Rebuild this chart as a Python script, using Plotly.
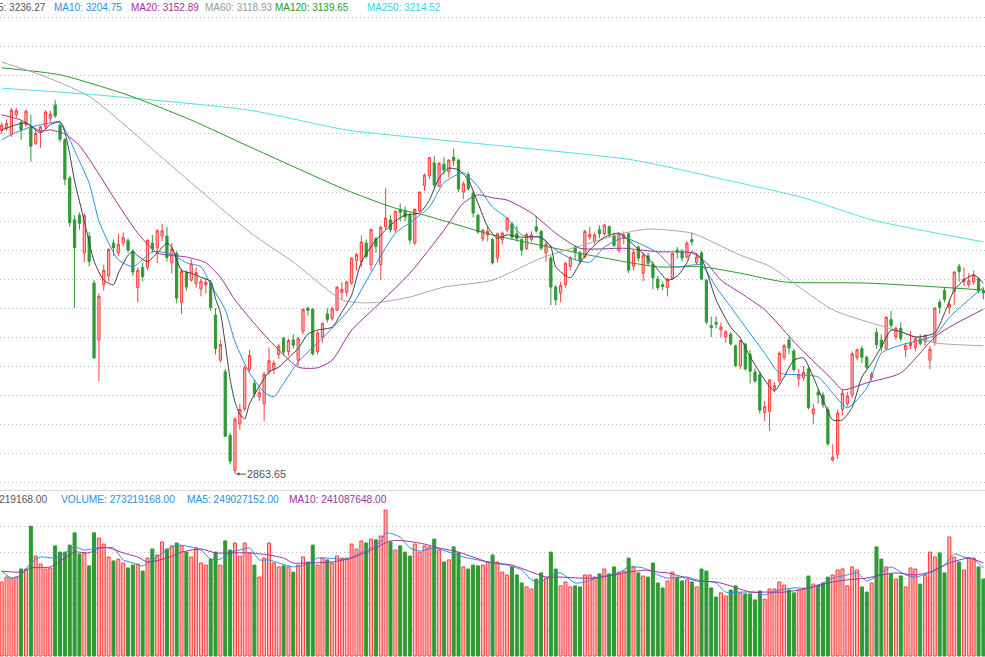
import plotly.graph_objects as go

# ---------------- data (index 0 = first visible trading day) ----------------
open_ = [3456,3460,3449,3483,3470,3466,3462,3434,3455,3462,
 3477,3500,3465,3440,3374,3302,3310,3245,3274,3193,
 3095,3190,3205,3262,3245,3262,3266,3248,3185,3220,
 3220,3262,3254,3274,3274,3228,3244,3160,3211,3198,
 3192,3183,3190,3193,3138,3060,3040,2930,2870,2950,
 2976,3044,3020,2997,2985,3040,3044,3070,3098,3075,
 3095,3060,3110,3150,3148,3075,3100,3140,3132,3146,
 3177,3177,3193,3232,3230,3262,3225,3270,3225,3290,
 3302,3285,3320,3318,3310,3262,3318,3361,3378,3400,
 3360,3398,3385,3410,3405,3350,3380,3348,3310,3270,
 3276,3268,3236,3268,3285,3295,3278,3268,3252,3268,
 3290,3282,3245,3236,3186,3176,3190,3222,3255,3245,
 3238,3272,3265,3285,3278,3290,3275,3250,3270,3278,
 3222,3255,3210,3240,3225,3200,3190,3185,3200,3250,
 3248,3238,3268,3228,3245,3198,3120,3125,3112,3100,
 3105,3085,3050,3088,3070,3040,3035,2970,2972,3010,
 3025,3065,3095,3076,3028,3030,3045,2968,3005,3000,
 2975,2888,2897,2975,2985,3000,3065,3080,3065,3030,
 3108,3095,3080,3130,3100,3115,3078,3085,3082,3098,
 3092,3060,3090,3160,3180,3151,3178,3222,3195,3190,
 3195,3200,3180]
high = [3470,3475,3495,3495,3474,3493,3483,3457,3464,3491,
 3490,3509,3470,3443,3378,3310,3315,3313,3281,3198,
 3175,3225,3253,3268,3278,3280,3270,3251,3220,3228,
 3268,3276,3286,3295,3290,3262,3248,3218,3215,3234,
 3220,3200,3200,3198,3150,3095,3045,2935,2962,2985,
 3051,3078,3026,3011,3040,3082,3060,3088,3100,3097,
 3105,3100,3150,3152,3150,3110,3125,3150,3152,3187,
 3195,3197,3237,3245,3275,3268,3287,3272,3292,3357,
 3310,3318,3330,3325,3315,3322,3350,3382,3410,3412,
 3402,3410,3406,3424.84,3407,3368,3385,3352,3312,3286,
 3290,3270,3280,3282,3307,3298,3292,3270,3280,3282,
 3309,3285,3265,3240,3190,3195,3230,3240,3258,3248,
 3285,3290,3280,3292,3295,3292,3280,3280,3282,3280,
 3250,3258,3245,3245,3230,3205,3196,3202,3245,3255,
 3252,3265,3280,3245,3248,3200,3135,3135,3125,3112,
 3108,3087,3095,3090,3078,3046,3040,2990,3027,3022,
 3075,3088,3100,3080,3045,3050,3048,2985,3010,3005,
 2980,2915,2975,3010,3005,3075,3080,3085,3068,3040,
 3115,3105,3136,3145,3118,3125,3090,3110,3100,3105,
 3105,3085,3151,3165,3185,3165,3213,3226,3220,3210,
 3215,3203,3185]
low = [3450,3455,3445,3478,3440,3462,3402,3431,3426,3458,
 3470,3478,3436,3362,3290,3150,3285,3229,3222,3062,
 3024,3180,3196,3240,3240,3256,3245,3205,3160,3196,
 3215,3245,3228,3265,3230,3210,3158,3140,3180,3195,
 3185,3170,3175,3145,3070,3056,2928,2880,2863.65,2940,
 2972,3040,2996,2990,2955,3035,3036,3062,3068,3068,
 3080,3050,3105,3137,3068,3070,3090,3125,3128,3145,
 3165,3170,3190,3215,3220,3235,3215,3245,3198,3285,
 3280,3280,3300,3300,3260,3258,3315,3352,3372,3358,
 3358,3380,3375,3395,3350,3338,3352,3306,3278,3265,
 3265,3225,3228,3260,3280,3268,3265,3240,3250,3264,
 3280,3250,3230,3155,3155,3160,3185,3215,3232,3225,
 3235,3268,3260,3270,3275,3272,3255,3245,3260,3210,
 3215,3230,3196,3222,3182,3180,3181,3170,3198,3235,
 3230,3235,3258,3225,3198,3122,3100,3115,3100,3090,
 3085,3048,3045,3042,3020,3021,2968,2955,2938,3005,
 3020,3060,3070,3040,3015,3025,2975,2950,2985,2978,
 2912,2885.09,2890,2965,2980,2995,3060,3055,3045,3025,
 3080,3075,3078,3115,3095,3092,3065,3080,3075,3085,
 3085,3045,3085,3140,3160,3140,3155,3195,3188,3185,
 3190,3175,3165]
close = [3465,3468,3491,3490,3457,3489,3429,3451,3462,3488,
 3484,3481,3441,3372,3297,3254,3296,3309,3230,3064,
 3170,3215,3251,3254,3260,3271,3250,3212,3215,3204,
 3267,3252,3283,3283,3237,3252,3167,3213,3186,3226,
 3211,3196,3194,3151,3080,3087,2929,2886,2958,2975,
 3047,3068,3002,3004,3036,3059,3055,3084,3074,3094,
 3086,3097,3147,3146,3071,3107,3123,3130,3149,3186,
 3182,3195,3236,3242,3264,3239,3285,3256,3289,3305,
 3285,3317,3315,3307,3267,3320,3350,3379,3409,3362,
 3399,3388,3405,3404,3355,3364,3356,3314,3281,3284,
 3282,3228,3278,3279,3305,3272,3270,3250,3277,3276,
 3283,3253,3260,3186,3164,3189,3227,3237,3247,3230,
 3282,3277,3276,3278,3293,3278,3258,3278,3276,3215,
 3246,3236,3241,3227,3202,3185,3187,3200,3244,3246,
 3236,3262,3264,3238,3200,3126,3116,3122,3117,3109,
 3088,3051,3094,3045,3041,3024,2974,2980,3026,3016,
 3072,3085,3081,3044,3035,3039,2978,2976,3000,2983,
 2916,2893,2969,3003,2998,3071,3078,3065,3048,3036,
 3087,3083,3134,3120,3115,3097,3085,3089,3097,3089,
 3102,3079,3150,3151,3165,3156,3212,3213,3200,3197,
 3207,3179,3176]
volume = [285,304,300,304,335,335,500,385,354,335,
 339,424,400,400,427,474,393,397,347,474,
 454,431,381,366,373,358,339,350,354,327,
 377,412,389,439,412,424,435,424,400,381,
 416,358,350,373,400,350,443,408,435,385,
 435,397,350,304,377,435,358,343,347,343,
 323,350,381,362,427,350,377,370,358,385,
 377,377,431,412,443,435,450,447,462,562,
 439,408,424,400,385,431,400,424,420,450,
 408,362,370,420,397,343,335,350,347,350,
 362,389,362,323,312,343,312,281,266,258,
 296,320,300,400,335,270,285,266,270,266,
 312,312,304,316,335,316,343,323,327,377,
 343,320,308,304,358,281,262,289,323,304,
 289,293,285,266,335,327,262,227,243,231,
 254,270,243,239,239,216,250,219,258,258,
 285,273,254,243,254,258,308,277,273,281,
 304,312,331,335,270,343,331,266,246,281,
 420,373,343,316,296,308,266,339,335,277,
 312,400,381,397,320,458,381,362,331,377,
 377,343,296]  # millions

# price moving averages (day index, value)
ma5_i = [0,3,5,8,10,12,13,14,15,17,19,21,23,24,26,27,28,30,32,34,35,37,39,41,43,44,45,46,47,48,49,50,51,53,55,57,59,61,63,65,68,70,72,74,77,81,83,86,88,90,92,94,96,98,100,102,104,107,111,113,114,117,119,121,124,127,130,133,135,137,139,141,142,144,145,147,150,152,154,157,159,161,163,165,167,169,171,173,175,177,179,181,183,185,188,192,194,196,198,200,202]
ma5_v = [3457,3466,3469,3452,3466,3471,3453,3415,3369,3300,3231,3198,3190,3210,3241,3247,3240,3230,3245,3262,3255,3215,3210,3203,3196,3166,3142,3088,3027,2988,2967,2959,2985,3015,3040,3048,3064,3080,3105,3112,3117,3143,3172,3229,3267,3300,3310,3314,3336,3374,3391,3388,3371,3331,3290,3270,3276,3272,3272,3255,3221,3202,3228,3250,3272,3279,3259,3236,3216,3198,3205,3228,3247,3235,3215,3164,3117,3098,3066,3026,3007,3031,3060,3064,3031,2991,2957,2957,2979,3031,3055,3083,3112,3109,3100,3107,3141,3181,3198,3207,3193]
ma10_i = [0,3,6,10,12,14,16,18,20,22,24,27,29,31,34,36,38,41,43,46,48,51,54,56,58,61,65,68,72,76,81,84,88,91,95,98,101,104,107,111,114,117,121,124,128,131,135,138,142,144,147,150,152,157,160,164,168,171,174,178,181,185,192,195,202]
ma10_v = [3440,3453,3462,3469,3471,3440,3403,3365,3300,3262,3233,3221,3233,3247,3245,3238,3228,3221,3190,3147,3092,3038,3005,2997,3020,3057,3090,3115,3153,3211,3279,3297,3324,3366,3383,3359,3324,3305,3276,3271,3250,3236,3229,3255,3271,3262,3245,3221,3224,3224,3186,3152,3129,3072,3038,3035,3031,3003,2978,3012,3072,3086,3103,3134,3186]
ma20_i = [0,4,8,10,13,16,20,23,28,32,38,42,45,48,51,55,61,65,68,72,77,84,91,95,98,101,104,109,114,119,128,135,142,145,148,152,157,164,171,173,178,185,192,195,202]
ma20_v = [3483,3474,3455,3457,3450,3430,3381,3341,3279,3245,3238,3228,3203,3164,3133,3095,3048,3047,3060,3112,3152,3210,3284,3331,3345,3340,3336,3314,3279,3253,3253,3247,3245,3228,3198,3176,3147,3083,3026,3009,3021,3038,3100,3117,3148]
ma60_i = [0,8,18,34,51,60,70,74,78,84,91,101,111,121,128,133,142,152,158,171,185,192,202]
ma60_v = [3574,3552,3515,3402,3281,3229,3164,3159,3160,3169,3186,3198,3236,3262,3279,3286,3279,3241,3222,3147,3109,3090,3085]
ma120_i = [0,12,26,39,51,71,81,87,101,121,135,144,152,161,178,193,202]
ma120_v = [3564,3552,3517,3474,3428,3353,3322,3310,3276,3241,3221,3221,3210,3195,3193,3186,3181]
ma250_i = [0,20,51,71,101,130,150,165,179,202]
ma250_v = [3529,3517,3491,3457,3431,3405,3369,3340,3302,3264]

# volume moving averages (day index, millions)
vma5_i = [0,2,4,6,8,11,13,15,17,20,23,25,27,29,31,34,36,39,41,43,45,47,49,51,53,55,57,60,63,65,67,71,74,78,79,82,84,86,89,92,95,98,101,104,107,109,111,113,115,118,120,123,127,129,132,135,137,141,143,147,149,152,155,157,160,163,166,169,171,174,176,178,181,183,186,188,191,194,196,198,200,202]
vma5_v = [327,300,312,358,381,377,397,420,408,416,416,370,358,347,370,408,427,420,408,373,373,400,408,416,370,370,358,343,354,377,377,373,397,439,474,458,416,404,416,400,381,370,358,350,331,293,285,312,320,281,285,304,320,343,339,312,300,304,293,281,246,246,246,235,254,262,262,281,300,312,320,289,320,343,312,304,320,350,393,381,373,339]
vma10_i = [0,4,6,10,13,15,18,20,22,25,28,30,34,37,41,44,48,51,55,58,60,63,68,72,76,80,83,87,90,94,97,100,105,109,112,115,119,122,126,129,133,135,137,141,143,147,150,154,157,161,164,167,171,174,178,181,184,188,191,195,199,202]
vma10_v = [327,323,339,343,377,400,397,416,416,397,381,362,377,400,412,397,397,397,389,377,358,358,362,377,408,443,443,431,416,400,381,362,350,323,304,304,300,300,312,323,331,323,320,300,289,285,270,246,246,246,254,266,285,293,300,312,320,312,323,358,377,358]

# header texts
price_header = [("MA5: 3236.27", "#555555"), ("MA10: 3204.75", "#2b8fdf"),
                ("MA20: 3152.89", "#a0309f"), ("MA60: 3118.93", "#9a9a9a"),
                ("MA120: 3139.65", "#2a982a"), ("MA250: 3214.52", "#38d4dc")]
vol_header = [("VOL: 273219168.00", "#555555"), ("VOLUME: 273219168.00", "#2b8fdf"),
              ("MA5: 249027152.00", "#2b8fdf"), ("MA10: 241087648.00", "#a0309f")]
low_label = "2863.65"

# ---------------- figure ----------------
W, H = 985, 657
N = len(close)
idx = list(range(N))
RED, PINK = "#ff3c3c", "rgba(255,120,120,0.55)"
GREEN = "#2f9a34"
GRID = "#bdbdbd"

fig = go.Figure()
fig.add_trace(go.Candlestick(
    x=idx, open=open_, high=high, low=low, close=close,
    increasing=dict(line=dict(color=RED, width=1), fillcolor=PINK),
    decreasing=dict(line=dict(color=GREEN, width=1), fillcolor=GREEN),
    whiskerwidth=0, xaxis="x", yaxis="y", hoverinfo="skip", showlegend=False))

def add_line(xs, ys, color, xa="x", ya="y", width=1.0):
    fig.add_trace(go.Scatter(x=xs, y=ys, mode="lines", xaxis=xa, yaxis=ya,
                             line=dict(color=color, width=width, shape="spline", smoothing=0.6),
                             hoverinfo="skip", showlegend=False))

add_line(ma250_i, ma250_v, "#4fe0e6")
add_line(ma120_i, ma120_v, "#2a982a")
add_line(ma60_i, ma60_v, "#a8a8a8")
add_line(ma20_i, ma20_v, "#a0309f")
add_line(ma10_i, ma10_v, "#2b8fdf")
add_line(ma5_i, ma5_v, "#404040")

up = [c >= o for o, c in zip(open_, close)]
fig.add_trace(go.Bar(
    x=idx, y=volume, width=0.62, xaxis="x2", yaxis="y2",
    marker=dict(color=[PINK if u else GREEN for u in up],
                line=dict(color=[RED if u else GREEN for u in up], width=1)),
    hoverinfo="skip", showlegend=False))
add_line(vma5_i, vma5_v, "#2b8fdf", "x2", "y2")
add_line(vma10_i, vma10_v, "#a0309f", "x2", "y2")

# pixel helpers for layout only
def py(p):
    return 1 - p / H

xr = [-0.35, 202.33]
price_top, price_bot = 3681.0, 3681.0 - 1.724 * 487
vol_per_px = 3.85
fig.update_layout(
    width=W, height=H, margin=dict(l=0, r=0, t=0, b=0),
    paper_bgcolor="white", plot_bgcolor="white", boxgap=0.35,
    xaxis=dict(domain=[0, 1], range=xr, showgrid=False, showticklabels=False,
               zeroline=False, ticks="", rangeslider=dict(visible=False), anchor="y"),
    yaxis=dict(domain=[py(487), 1], range=[price_bot, price_top],
               tickvals=list(range(2850, 3700, 50)), showticklabels=False, ticks="",
               gridcolor=GRID, griddash="1px,3px", gridwidth=1, zeroline=False, anchor="x"),
    xaxis2=dict(domain=[0, 1], range=xr, showgrid=False, showticklabels=False,
                zeroline=False, ticks="", anchor="y2"),
    yaxis2=dict(domain=[0, py(490)], range=[-1 * vol_per_px, 166 * vol_per_px],
                tickvals=[100, 200, 300, 400, 500], showticklabels=False, ticks="",
                gridcolor=GRID, griddash="1px,3px", gridwidth=1, zeroline=False, anchor="x2"),
    font=dict(family="Liberation Sans, Arial, sans-serif", size=11, color="#555555"),
)

fig.add_shape(type="line", xref="paper", yref="paper", x0=0, x1=1,
              y0=py(490.5), y1=py(490.5), line=dict(color="#d9d9d9", width=1))

annos = []
hx = [(48, "right"), (52, "left"), (129, "left"), (203, "left"), (273, "left"), (365, "left")]
for (t, c), (x, a) in zip(price_header, hx):
    annos.append(dict(text=t, x=x / W, y=py(7.5), xref="paper", yref="paper",
                      xanchor=a, yanchor="middle", showarrow=False,
                      font=dict(size=10, color=c)))
vx = [(50, "right"), (59, "left"), (185, "left"), (287, "left")]
for (t, c), (x, a) in zip(vol_header, vx):
    annos.append(dict(text=t, x=x / W, y=py(499.5), xref="paper", yref="paper",
                      xanchor=a, yanchor="middle", showarrow=False,
                      font=dict(size=10.2, color=c)))
lo_i = low.index(min(low))
annos.append(dict(text=low_label, x=lo_i, y=min(low), xref="x", yref="y",
                  showarrow=True, ax=32, ay=0, arrowhead=2, arrowsize=0.7,
                  arrowwidth=1, arrowcolor="#555555", standoff=1,
                  font=dict(size=10.8, color="#555555")))
fig.update_layout(annotations=annos)

fig.write_html("out.html")
